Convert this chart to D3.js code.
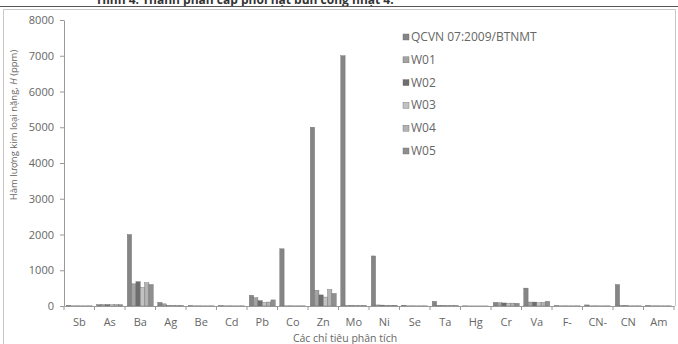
<!DOCTYPE html>
<html>
<head>
<meta charset="utf-8">
<script src="https://cdn.jsdelivr.net/npm/d3@7"></script>
<style>
  body { margin: 0; background: #fff; }
  text { font-family: "Open Sans", "Noto Sans", sans-serif; }
</style>
</head>
<body>
<div id="chart"></div>
<script>
'use strict';

// categories on the x axis
let categories = ["Sb", "As", "Ba", "Ag", "Be", "Cd", "Pb", "Co", "Zn", "Mo",
                  "Ni", "Se", "Ta", "Hg", "Cr", "Va", "F-", "CN-", "CN", "Am"];

// series names (legend order)
let seriesNames = ["QCVN 07:2009/BTNMT", "W01", "W02", "W03", "W04", "W05"];

// values (ppm)
let qcvn = [20, 40, 2000, 100, 10, 10, 300, 1600, 5000, 7000, 1400, 20, 130, 5, 100, 500, 10, 30, 600, 10];
let w01  = [5, 40, 620, 60, 5, 5, 230, 5, 440, 10, 30, 5, 20, 2, 90, 110, 5, 5, 10, 5];
let w02  = [5, 40, 680, 10, 5, 5, 150, 5, 310, 10, 25, 5, 10, 2, 85, 110, 5, 5, 10, 5];
let w03  = [5, 35, 520, 10, 5, 5, 100, 5, 250, 10, 20, 5, 10, 2, 80, 90, 5, 5, 5, 5];
let w04  = [5, 40, 650, 10, 5, 5, 110, 5, 460, 10, 20, 5, 10, 2, 80, 100, 5, 5, 5, 5];
let w05  = [5, 35, 600, 10, 5, 5, 170, 5, 350, 10, 20, 5, 10, 2, 75, 130, 5, 5, 5, 5];

let yTicks = [0, 1000, 2000, 3000, 4000, 5000, 6000, 7000, 8000];

let seriesValues = [qcvn, w01, w02, w03, w04, w05];
let colors = ["#858585", "#a3a3a3", "#6e6e6e", "#c2c2c2", "#b3b3b3", "#8f8f8f"];

let svg = d3.select("#chart").append("svg")
  .attr("width", 678)
  .attr("height", 344);

// scanned caption above the frame, only its lower part shows
svg.append("text")
  .attr("x", 97)
  .attr("y", 4)
  .style("font-size", "12px")
  .style("font-weight", "bold")
  .attr("fill", "#333")
  .text("Hình 4. Thành phần cấp phối hạt bùn cống nhật 4.");

svg.append("line")
  .attr("x1", 0).attr("x2", 678)
  .attr("y1", 6.5).attr("y2", 6.5)
  .attr("stroke", "#555").attr("stroke-width", 1.2);

// chart frame
svg.append("path")
  .attr("d", "M3.5,344 V9.5 H675.5 V306")
  .attr("fill", "none")
  .attr("stroke", "#c8c8c8");

let plotLeft = 64, plotRight = 674, plotTop = 20, plotBottom = 306;

let x = d3.scaleBand()
  .domain(categories)
  .range([plotLeft, plotRight])
  .paddingInner(0.15)
  .paddingOuter(0.075);

let xSub = d3.scaleBand()
  .domain(seriesNames)
  .range([0, x.bandwidth()]);

let y = d3.scaleLinear()
  .domain([0, 8000])
  .range([plotBottom, plotTop]);

// y axis
let yAxis = d3.axisLeft(y).tickValues(yTicks).tickSize(4).tickSizeOuter(0).tickFormat(d3.format("d"));
let gy = svg.append("g")
  .attr("transform", "translate(" + plotLeft + ",0)")
  .call(yAxis);
gy.select(".domain").attr("stroke", "#999");
gy.selectAll(".tick line").attr("stroke", "#999");
gy.selectAll(".tick text")
  .attr("fill", "#666")
  .attr("x", -10)
  .style("font-size", "11px");

// bars
let rows = [];
categories.forEach((c, i) => {
  seriesNames.forEach((s, j) => {
    rows.push({ cat: c, series: s, value: seriesValues[j][i], k: j });
  });
});

svg.append("g").selectAll("rect")
  .data(rows)
  .enter()
  .append("rect")
  .attr("x", (d) => x(d.cat) + xSub(d.series))
  .attr("y", (d) => y(d.value))
  .attr("width", xSub.bandwidth())
  .attr("height", (d) => plotBottom - y(d.value))
  .attr("fill", (d) => colors[d.k])
  .attr("stroke", "#6a6a6a")
  .attr("stroke-width", 0.4);

// x axis
let xAxis = d3.axisBottom(x).tickSize(0).tickSizeOuter(0);
let gx = svg.append("g")
  .attr("transform", "translate(0," + plotBottom + ")")
  .call(xAxis);
gx.select(".domain").attr("stroke", "#999");
gx.selectAll(".tick text")
  .attr("fill", "#666")
  .attr("y", 12)
  .style("font-size", "11px");

// tick marks between categories
let bounds = d3.range(categories.length + 1).map((i) => plotLeft + i * (plotRight - plotLeft) / categories.length);
gx.selectAll(".sep")
  .data(bounds)
  .enter()
  .append("line")
  .attr("x1", (d) => d).attr("x2", (d) => d)
  .attr("y1", 0).attr("y2", 4)
  .attr("stroke", "#999");

// axis titles
svg.append("text")
  .attr("transform", "translate(17,125) rotate(-90)")
  .attr("text-anchor", "middle")
  .attr("fill", "#666")
  .style("font-size", "9.5px")
  .html("Hàm lượng kim loại nặng, <tspan font-style='italic'>H</tspan> (ppm)");

svg.append("text")
  .attr("x", 345)
  .attr("y", 342)
  .attr("text-anchor", "middle")
  .attr("fill", "#666")
  .style("font-size", "10.5px")
  .text("Các chỉ tiêu phân tích");

// legend
let legend = svg.append("g").selectAll("g")
  .data(seriesNames)
  .enter()
  .append("g")
  .attr("transform", (d, i) => "translate(403," + (37 + i * 22.8) + ")");

legend.append("rect")
  .attr("x", 0).attr("y", -3)
  .attr("width", 6).attr("height", 6)
  .attr("fill", (d, i) => colors[i])
  .attr("stroke", "#6a6a6a")
  .attr("stroke-width", 0.4);

legend.append("text")
  .attr("x", 8)
  .attr("y", 4)
  .attr("fill", "#666")
  .style("font-size", "12px")
  .text((d) => d);
</script>
</body>
</html>
